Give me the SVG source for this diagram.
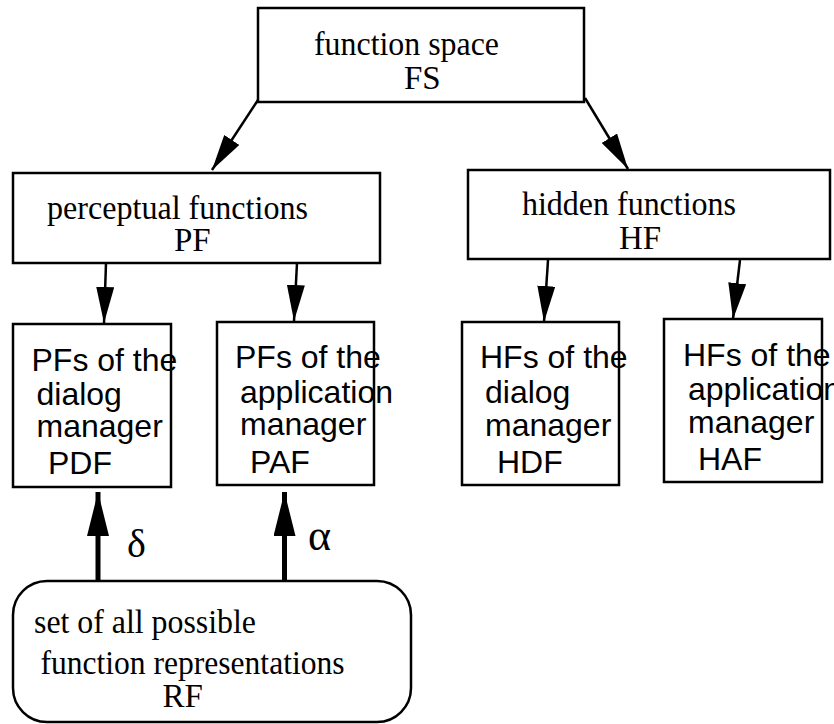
<svg xmlns="http://www.w3.org/2000/svg" width="834" height="724" viewBox="0 0 834 724">
<style>
.box{fill:#fff;stroke:#000;stroke-width:2.5}
.serif{font-family:"Liberation Serif","Times New Roman",serif;font-size:33px;fill:#000}
.sans{font-family:"Liberation Sans",Arial,sans-serif;font-size:32px;fill:#000}
.sym{font-family:"Liberation Serif","DejaVu Serif",serif;fill:#000}
.ln{stroke:#000;stroke-width:2.5;fill:none;marker-end:url(#arr)}
.thick{stroke:#000;stroke-width:5;fill:none;marker-end:url(#big)}
</style>
<defs>
<marker id="arr" viewBox="0 0 36 18" refX="36" refY="9" markerWidth="36" markerHeight="18" markerUnits="userSpaceOnUse" orient="auto"><path d="M0,0 L36,9 L0,18 z" fill="#000"/></marker>
<marker id="big" viewBox="0 0 44 22" refX="44" refY="11" markerWidth="44" markerHeight="22" markerUnits="userSpaceOnUse" orient="auto"><path d="M0,0 L44,11 L0,22 z" fill="#000"/></marker>
</defs>
<rect width="834" height="724" fill="#fff"/>
<g id="connectors">
<line class="ln" x1="258" y1="100" x2="212" y2="170"/>
<line class="ln" x1="585" y1="98" x2="628" y2="169"/>
<line class="ln" x1="106" y1="263" x2="104" y2="323"/>
<line class="ln" x1="297" y1="263" x2="294" y2="321"/>
<line class="ln" x1="548" y1="260" x2="544" y2="322"/>
<line class="ln" x1="740" y1="260" x2="733" y2="319"/>
<line class="thick" x1="98" y1="581" x2="98" y2="492"/>
<line class="thick" x1="284.5" y1="581" x2="284.5" y2="492"/>
<text class="sym" x="127" y="557" font-size="40">δ</text>
<text class="sym" x="308" y="550" font-size="44">α</text>
</g>
<g id="FS">
<rect class="box" x="258" y="8" width="326" height="94"/>
<text class="serif" x="314" y="55" textLength="185" lengthAdjust="spacingAndGlyphs">function space</text>
<text class="serif" x="404" y="89">FS</text>
</g>
<g id="PF">
<rect class="box" x="13" y="173" width="367" height="90"/>
<text class="serif" x="47" y="219" textLength="261" lengthAdjust="spacingAndGlyphs">perceptual functions</text>
<text class="serif" x="174" y="251">PF</text>
</g>
<g id="HF">
<rect class="box" x="468" y="170" width="362" height="89"/>
<text class="serif" x="522" y="215" textLength="214" lengthAdjust="spacingAndGlyphs">hidden functions</text>
<text class="serif" x="619" y="249">HF</text>
</g>
<g id="PDF">
<rect class="box" x="13" y="324" width="158" height="163"/>
<text class="sans" x="31.5" y="370.5">PFs of the</text>
<text class="sans" x="36.5" y="405">dialog</text>
<text class="sans" x="36.5" y="437">manager</text>
<text class="sans" x="48" y="474">PDF</text>
</g>
<g id="PAF">
<rect class="box" x="217" y="322" width="157" height="163"/>
<text class="sans" x="235" y="368">PFs of the</text>
<text class="sans" x="240" y="403">application</text>
<text class="sans" x="240" y="435">manager</text>
<text class="sans" x="250" y="472.5">PAF</text>
</g>
<g id="HDF">
<rect class="box" x="462" y="322" width="157" height="163"/>
<text class="sans" x="480" y="368">HFs of the</text>
<text class="sans" x="485" y="402.5">dialog</text>
<text class="sans" x="485" y="436">manager</text>
<text class="sans" x="497" y="472.5">HDF</text>
</g>
<g id="HAF">
<rect class="box" x="664" y="319" width="158" height="163"/>
<text class="sans" x="683" y="365.5">HFs of the</text>
<text class="sans" x="688" y="400">application</text>
<text class="sans" x="688" y="433">manager</text>
<text class="sans" x="698" y="470">HAF</text>
</g>
<g id="RF">
<rect class="box" x="13" y="581" width="398" height="141" rx="34" ry="34"/>
<text class="serif" x="34" y="633" textLength="222" lengthAdjust="spacingAndGlyphs">set of all possible</text>
<text class="serif" x="40.5" y="674" textLength="304" lengthAdjust="spacingAndGlyphs">function representations</text>
<text class="serif" x="162.5" y="707">RF</text>
</g>
</svg>
